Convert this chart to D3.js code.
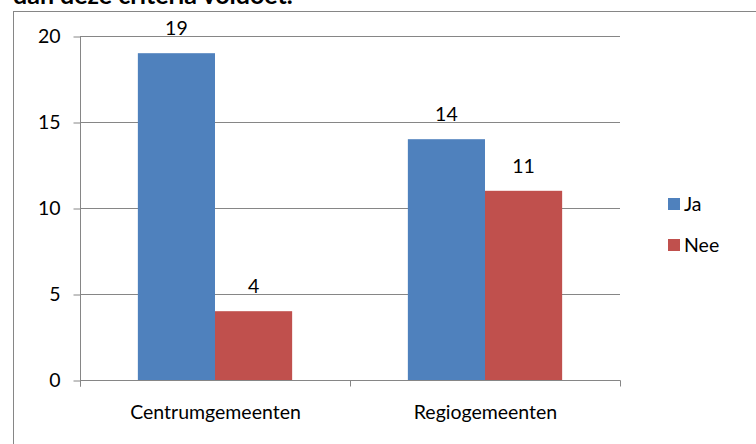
<!DOCTYPE html>
<html><head><meta charset="utf-8">
<script src="https://cdn.jsdelivr.net/npm/d3@7"></script>
<style>body{margin:0;background:#fff}svg{display:block}text{font-family:Lato,"Open Sans",sans-serif;fill:#000}</style>
</head><body><svg id="c" width="756" height="444"></svg>
<script>
const categories = ["Centrumgemeenten", "Regiogemeenten"];
const seriesNames = ["Ja", "Nee"];
const jaValues = [19, 14];
const neeValues = [4, 11];
const yTicks = [0, 5, 10, 15, 20];
const titleText = "dan deze criteria voldoet.";
const colors = ["#4F81BD", "#C0504D"];

const svg = d3.select("#c");
const gray = "#868686";
const plot = {left: 80, right: 620, top: 36, bottom: 380};
const fs = 19.5;

// chart frame
svg.append("line").attr("x1",13.5).attr("x2",13.5).attr("y1",11).attr("y2",444).attr("stroke",gray);
svg.append("line").attr("x1",13).attr("x2",756).attr("y1",11.5).attr("y2",11.5).attr("stroke",gray);

// title (cut off at top)
svg.append("text").attr("x",13).attr("y",4).attr("font-size",25).attr("font-weight","bold").text(titleText);

const x0 = d3.scaleBand().domain(categories).range([plot.left, plot.right]).paddingInner(0).paddingOuter(0);
const x1 = d3.scaleBand().domain(seriesNames).range([0, x0.bandwidth()]).paddingInner(0).paddingOuter(0.75);
const y = d3.scaleLinear().domain([0, 20]).range([plot.bottom, plot.top]);

// gridlines
svg.append("g").selectAll("line").data(yTicks.filter(d=>d>0)).join("line")
  .attr("x1", plot.left).attr("x2", plot.right)
  .attr("y1", d=>Math.round(y(d))+0.5).attr("y2", d=>Math.round(y(d))+0.5)
  .attr("stroke", gray);

// y axis
const yAxis = svg.append("g").attr("transform",`translate(${plot.left+0.5},0.5)`)
  .call(d3.axisLeft(y).tickValues(yTicks).tickSize(7).tickPadding(13).tickFormat(d3.format("d")));
yAxis.select(".domain").attr("stroke",gray).attr("d",`M-0,${plot.top-0.5}V${plot.bottom+6}`);
yAxis.selectAll(".tick line").attr("stroke",gray);
yAxis.selectAll("text").attr("font-size",fs).attr("font-family","Lato");

const data = categories.map((c,i)=>({cat:c, vals:[jaValues[i], neeValues[i]]}));

// bars
const groups = svg.append("g").selectAll("g").data(data).join("g")
  .attr("transform", d=>`translate(${x0(d.cat)},0)`);
groups.selectAll("rect").data(d=>d.vals.map((v,j)=>({s:seriesNames[j], v, j}))).join("rect")
  .attr("x", d=>x1(d.s)).attr("width", x1.bandwidth())
  .attr("y", d=>y(d.v)).attr("height", d=>y(0)-y(d.v))
  .attr("fill", d=>colors[d.j]);
groups.selectAll("text").data(d=>d.vals.map((v,j)=>({s:seriesNames[j], v, j}))).join("text")
  .attr("x", d=>x1(d.s)+x1.bandwidth()/2).attr("y", d=>y(d.v)-18)
  .attr("text-anchor","middle").attr("font-size",fs).text(d=>d.v);

// x axis
const xAxisG = svg.append("g").attr("transform",`translate(0.5,${plot.bottom+0.5})`);
xAxisG.append("line").attr("x1",plot.left).attr("x2",plot.right).attr("stroke",gray);
xAxisG.selectAll(".tk").data([plot.left, ...categories.map(c=>x0(c)+x0.bandwidth())]).join("line")
  .attr("x1",d=>d).attr("x2",d=>d).attr("y1",0).attr("y2",6).attr("stroke",gray);
xAxisG.selectAll(".lb").data(categories).join("text")
  .attr("x", d=>x0(d)+x0.bandwidth()/2).attr("y", 38)
  .attr("text-anchor","middle").attr("font-size",fs).text(d=>d);

// legend
const leg = svg.append("g").selectAll("g").data(seriesNames).join("g")
  .attr("transform",(d,i)=>`translate(668,${198+i*41})`);
leg.append("rect").attr("width",12).attr("height",12).attr("fill",(d,i)=>colors[i]);
leg.append("text").attr("x",16).attr("y",13).attr("font-size",fs).text(d=>d);
</script></body></html>
